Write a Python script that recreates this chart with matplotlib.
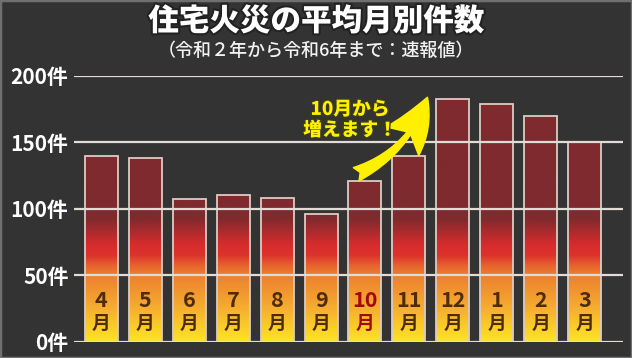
import matplotlib
matplotlib.use("Agg")
import matplotlib.pyplot as plt
import numpy as np
from matplotlib.colors import LinearSegmentedColormap
from matplotlib.patches import Rectangle
import matplotlib.patheffects as pe

plt.rcParams['font.family'] = ['Noto Sans CJK JP', 'DejaVu Sans']

months = ["4", "5", "6", "7", "8", "9", "10", "11", "12", "1", "2", "3"]
values = [140, 138, 107, 110, 108, 96, 121, 140, 183, 179, 170, 150]
yticks = [0, 50, 100, 150, 200]
ytick_labels = ["0件", "50件", "100件", "150件", "200件"]
highlight = "10"

title = "住宅火災の平均月別件数"
subtitle = "（令和２年から令和6年まで：速報値）"
note = "10月から\n増えます！"

W, H = 632, 358
fig = plt.figure(figsize=(W / 100, H / 100), dpi=100)
fig.patch.set_facecolor("#333333")

# axes placement
x_left_px, x_right_px = 74, 623
y0_px, y200_px = 341.5, 76.0
ax = fig.add_axes([x_left_px / W, (H - y0_px) / H,
                   (x_right_px - x_left_px) / W, (y0_px - y200_px) / H])
ax.set_facecolor("#333333")
for s in ax.spines.values():
    s.set_visible(False)

cmap = LinearSegmentedColormap.from_list("fire", [
    (0.0, "#fde226"),
    (0.13, "#f5aa30"),
    (0.25, "#ec7e2f"),
    (0.285, "#e6602e"),
    (0.32, "#dc332c"),
    (0.36, "#d82c2c"),
    (0.46, "#7f2a2e"),
    (1.0, "#7f2a2e"),
])
grad = np.linspace(0, 1, 400).reshape(-1, 1)

x = np.arange(len(months))
bw = 0.75
bars = ax.bar(x, values, width=bw, facecolor="none", edgecolor="#dccbc4",
              linewidth=1.3, zorder=3)
for b in bars:
    im = ax.imshow(grad, cmap=cmap, aspect="auto", origin="lower",
                   extent=(b.get_x(), b.get_x() + b.get_width(), 0, 200),
                   zorder=2, interpolation="bilinear")
    im.set_clip_path(b)
ax.set_xlim(-0.614, 11.864)
ax.set_ylim(0, 200)

# gridlines on top of bars
ax.set_yticks(yticks)
ax.set_yticklabels(ytick_labels)
for v in yticks:
    ax.axhline(v, color="#e2dcd6", linewidth=1.6, zorder=4)
ax.tick_params(axis="y", length=0, pad=4, labelsize=15, labelcolor="white")
for t in ax.get_yticklabels():
    t.set_fontweight("bold")
ax.set_xticks([])

# month labels inside bars
for xi, m in zip(x, months):
    c = "#a00a0a" if m == highlight else "#4e2c06"
    ax.text(xi, 31, m, ha="center", va="center", fontsize=15.5, color=c,
            fontweight="bold", zorder=5)
    ax.text(xi, 13.5, "月", ha="center", va="center", fontsize=13.5, color=c,
            fontweight="bold", zorder=5)

# annotation arrow and text
ax.annotate("", xy=(7.42, 184), xytext=(5.8, 126),
            arrowprops=dict(arrowstyle="fancy,head_length=1.4,head_width=1.2,tail_width=0.4",
                            connectionstyle="arc3,rad=0.22", color="#fff000",
                            shrinkA=0, shrinkB=0, mutation_scale=26),
            zorder=6)
ax.text(5.66, 167, note, ha="center", va="center", fontsize=13.5,
        color="#fff000", fontweight="heavy", linespacing=1.12, zorder=6,
        path_effects=[pe.withStroke(linewidth=2, foreground="#3a3a20")])

# title and subtitle
fig.text(0.5, 1 - 21 / H, title, ha="center", va="center", fontsize=22,
         color="white", fontweight="heavy",
         path_effects=[pe.withStroke(linewidth=3, foreground="#222222")])
fig.text(0.5, 1 - 51 / H, subtitle, ha="center", va="center", fontsize=13,
         color="#f2f2f2", fontweight="medium")

# border
fig.patches.append(Rectangle((0, 0), 1, 1, transform=fig.transFigure,
                             fill=False, edgecolor="#707070", linewidth=2.5))

fig.savefig("out.png", dpi=100, facecolor=fig.get_facecolor())
